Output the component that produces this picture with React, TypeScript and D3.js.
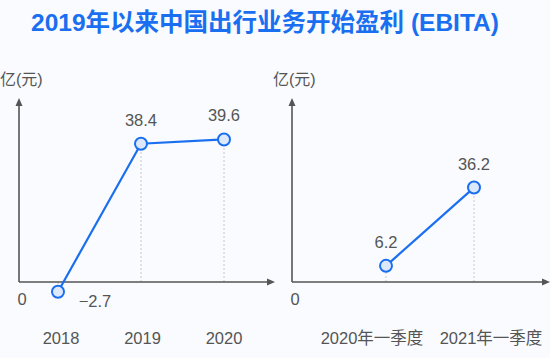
import * as d3 from 'd3';

const titleText = '2019年以来中国出行业务开始盈利 (EBITA)';
const unitLabel = '亿(元)';

const yearCategories = ['2018', '2019', '2020'];
const yearValues = [-2.7, 38.4, 39.6];

const quarterCategories = ['2020年一季度', '2021年一季度'];
const quarterValues = [6.2, 36.2];

const WIDTH = 550;
const HEIGHT = 358;
const FONT = '"Liberation Sans", "Noto Sans CJK SC", sans-serif';
const BLUE = '#1a6ff0';
const AXIS = '#555';
const TEXT = '#555';

interface PanelProps {
  categories: string[];
  values: number[];
  originX: number;
  axisEnd: number;
  pointRange: [number, number];
  labelRange: [number, number];
  yMax: number;
}

const fmt = d3.format('.1f');

const Panel = ({ categories, values, originX, axisEnd, pointRange, labelRange, yMax }: PanelProps) => {
  const zeroY = 282;
  const yScale = d3.scaleLinear().domain([0, yMax]).range([zeroY, 102]);
  const xScale = d3.scalePoint<string>().domain(categories).range(pointRange);
  const labelScale = d3.scalePoint<string>().domain(categories).range(labelRange);

  const line = d3
    .line<number>()
    .x((_, i) => xScale(categories[i]) as number)
    .y((d) => yScale(d));

  return (
    <g>
      {/* unit label */}
      <text x={originX - 19} y={85} fontSize={16} fill={TEXT}>
        {unitLabel}
      </text>
      {/* zero label */}
      <text x={originX + 3} y={305} fontSize={16.5} fill={TEXT} textAnchor='middle'>
        0
      </text>

      {/* drop lines */}
      {values.map((v, i) => (
        <line
          key={'d' + i}
          x1={xScale(categories[i])}
          x2={xScale(categories[i])}
          y1={yScale(0)}
          y2={yScale(v)}
          stroke='#c8c8c8'
          strokeWidth={1}
          strokeDasharray='2,2'
        />
      ))}

      {/* axes */}
      <line x1={originX} x2={originX} y1={zeroY} y2={102} stroke={AXIS} strokeWidth={1.6} />
      <path d={`M${originX - 3.5},${106} L${originX},${98} L${originX + 3.5},${106} Z`} fill={AXIS} />
      <line x1={originX} x2={axisEnd - 4} y1={zeroY} y2={zeroY} stroke={AXIS} strokeWidth={1.6} />
      <path d={`M${axisEnd - 8},${zeroY - 3.5} L${axisEnd},${zeroY} L${axisEnd - 8},${zeroY + 3.5} Z`} fill={AXIS} />

      {/* series */}
      <path d={line(values) ?? ''} fill='none' stroke={BLUE} strokeWidth={2.2} />
      {values.map((v, i) => (
        <circle
          key={'c' + i}
          cx={xScale(categories[i])}
          cy={yScale(v)}
          r={6}
          fill='#dde9fb'
          stroke={BLUE}
          strokeWidth={2}
        />
      ))}

      {/* value labels */}
      {values.map((v, i) =>
        v < 0 ? (
          <text
            key={'v' + i}
            x={(xScale(categories[i]) as number) + 37}
            y={yScale(v) + 15}
            fontSize={16.5}
            fill={TEXT}
            textAnchor='middle'
          >
            {fmt(v)}
          </text>
        ) : (
          <text
            key={'v' + i}
            x={xScale(categories[i])}
            y={yScale(v) - 18}
            fontSize={16.5}
            fill={TEXT}
            textAnchor='middle'
          >
            {fmt(v)}
          </text>
        )
      )}

      {/* category labels */}
      {categories.map((c) => (
        <text key={c} x={labelScale(c)} y={344} fontSize={16.5} fill={TEXT} textAnchor='middle'>
          {c}
        </text>
      ))}
    </g>
  );
};

export default function App() {
  return (
    <svg
      width={WIDTH}
      height={HEIGHT}
      style={{ position: 'absolute', left: 0, top: 0, background: '#f9fbfe' }}
      fontFamily={FONT}
    >
      <text x={265} y={31} fontSize={24.5} fontWeight='bold' fill={BLUE} textAnchor='middle'>
        {titleText}
      </text>
      <Panel
        categories={yearCategories}
        values={yearValues}
        originX={19}
        axisEnd={275}
        pointRange={[58, 224]}
        labelRange={[61, 224]}
        yMax={50}
      />
      <Panel
        categories={quarterCategories}
        values={quarterValues}
        originX={292}
        axisEnd={550}
        pointRange={[386, 474]}
        labelRange={[372, 491]}
        yMax={69}
      />
    </svg>
  );
}
